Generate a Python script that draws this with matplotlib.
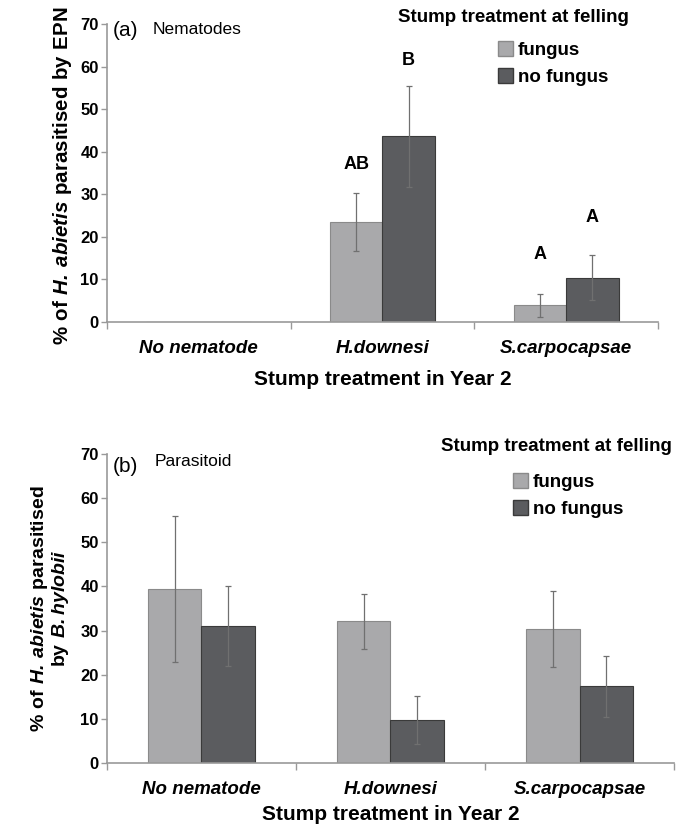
import numpy as np
import matplotlib
matplotlib.use('Agg')
import matplotlib.pyplot as plt
from matplotlib.patches import Patch

plt.rcParams['font.family'] = ['Liberation Sans', 'DejaVu Sans']
plt.rcParams['mathtext.fontset'] = 'custom'
plt.rcParams['mathtext.bf'] = 'Liberation Sans:bold'
plt.rcParams['mathtext.bfit'] = 'Liberation Sans:italic:bold'

# data
categories = ['No nematode', 'H.downesi', 'S.carpocapsae']
series = ['fungus', 'no fungus']

epn_fungus = [0, 23.6, 3.9]
epn_fungus_err = [np.nan, 6.8, 2.7]
epn_nofungus = [0, 43.6, 10.4]
epn_nofungus_err = [np.nan, 11.8, 5.3]
epn_letters_fungus = ['', 'AB', 'A']
epn_letters_fungus_y = [np.nan, 37.0, 15.8]
epn_letters_nofungus = ['', 'B', 'A']
epn_letters_nofungus_y = [np.nan, 61.5, 24.5]

par_fungus = [39.4, 32.1, 30.3]
par_fungus_err = [16.5, 6.3, 8.6]
par_nofungus = [31.0, 9.7, 17.4]
par_nofungus_err = [9.1, 5.5, 6.9]

c_fungus = '#a9a9ab'
c_nofungus = '#5b5c5f'
e_fungus = '#8a8a8a'
e_nofungus = '#3a3a3a'

W = 0.285


def panel(ax, f, ferr, nf, nferr, lpad):
    x = np.arange(len(categories))
    ax.bar(x - W / 2, f, W, color=c_fungus, edgecolor=e_fungus, linewidth=0.8, zorder=2)
    ax.bar(x + W / 2, nf, W, color=c_nofungus, edgecolor=e_nofungus, linewidth=0.8, zorder=2)
    ax.errorbar(x - W / 2, f, yerr=ferr, fmt='none', ecolor='#707070', elinewidth=0.9,
                capsize=2.5, capthick=0.9, zorder=3)
    ax.errorbar(x + W / 2, nf, yerr=nferr, fmt='none', ecolor='#707070', elinewidth=0.9,
                capsize=2.5, capthick=0.9, zorder=3)
    ax.set_xlim(-0.5, 2.5)
    ax.set_ylim(0, 70)
    ax.set_yticks(range(0, 71, 10))
    ax.set_yticklabels([str(v) for v in range(0, 71, 10)], fontsize=12, fontweight='bold')
    ax.set_xticks(x)
    ax.set_xticklabels(categories, fontsize=13.5, fontweight='bold', fontstyle='italic')
    ax.set_xticks([-0.5, 0.5, 1.5, 2.5], minor=True)
    ax.tick_params(axis='x', which='major', length=0, pad=13)
    ax.tick_params(axis='x', which='minor', length=5, color='#999999', width=1)
    ax.tick_params(axis='y', length=4, color='#999999', width=1, pad=2)
    for s in ['top', 'right']:
        ax.spines[s].set_visible(False)
    for s in ['left', 'bottom']:
        ax.spines[s].set_color('#999999')
        ax.spines[s].set_linewidth(1.2)
    ax.set_xlabel('Stump treatment in Year 2', fontsize=15, fontweight='bold', labelpad=lpad)


fig = plt.figure(figsize=(6.84, 8.27), dpi=100)
handles = [Patch(facecolor=c_fungus, edgecolor=e_fungus), Patch(facecolor=c_nofungus, edgecolor=e_nofungus)]

# (a) nematodes
ax1 = fig.add_axes([0.1564, 0.6106, 0.8056, 0.3603])
panel(ax1, epn_fungus, epn_fungus_err, epn_nofungus, epn_nofungus_err, 9)
x = np.arange(len(categories))
for i in range(len(categories)):
    if epn_letters_fungus[i]:
        ax1.text(x[i] - W / 2, epn_letters_fungus_y[i], epn_letters_fungus[i],
                 ha='center', va='center', fontsize=13, fontweight='bold')
    if epn_letters_nofungus[i]:
        ax1.text(x[i] + W / 2, epn_letters_nofungus_y[i], epn_letters_nofungus[i],
                 ha='center', va='center', fontsize=13, fontweight='bold')
ax1.set_ylabel(r'$\mathbf{\%\ of\ }\mathbfit{H.\,abietis}\mathbf{\ parasitised\ by\ EPN}$',
               fontsize=14.8)
ax1.yaxis.set_label_coords(-0.06, 0.49)
fig.text(113 / 684, 1 - 31 / 827, '(a)', fontsize=15, va='center', ha='left')
fig.text(153 / 684, 1 - 29 / 827, 'Nematodes', fontsize=12.5, va='center', ha='left')
fig.text(398 / 684, 1 - 17 / 827, 'Stump treatment at felling', fontsize=13.5,
         fontweight='bold', va='center', ha='left')
fig.legend(handles, series, loc='upper left', bbox_to_anchor=(481 / 684, 1 - 24 / 827),
           frameon=False, handlelength=0.8, handleheight=0.9, handletextpad=0.25,
           labelspacing=0.45, prop={'weight': 'bold', 'size': 13.5})

# (b) parasitoid
ax2 = fig.add_axes([0.1564, 0.0774, 0.829, 0.3735])
panel(ax2, par_fungus, par_fungus_err, par_nofungus, par_nofungus_err, 5)
ax2.set_ylabel('$\\mathbf{\\%\\ of\\ }\\mathbfit{H.\\,abietis}\\mathbf{\\ parasitised}$\n'
               '$\\mathbf{by\\ }\\mathbfit{B.hylobii}$',
               fontsize=14, linespacing=0.95)
ax2.yaxis.set_label_coords(-0.064, 0.5)
fig.text(113 / 684, 1 - 466 / 827, '(b)', fontsize=15, va='center', ha='left')
fig.text(155 / 684, 1 - 461 / 827, 'Parasitoid', fontsize=12.5, va='center', ha='left')
fig.text(441 / 684, 1 - 447 / 827, 'Stump treatment at felling', fontsize=13.5,
         fontweight='bold', va='center', ha='left')
fig.legend(handles, series, loc='upper left', bbox_to_anchor=(496 / 684, 1 - 456 / 827),
           frameon=False, handlelength=0.8, handleheight=0.9, handletextpad=0.25,
           labelspacing=0.45, prop={'weight': 'bold', 'size': 13.5})

fig.savefig('out.png', dpi=100)
